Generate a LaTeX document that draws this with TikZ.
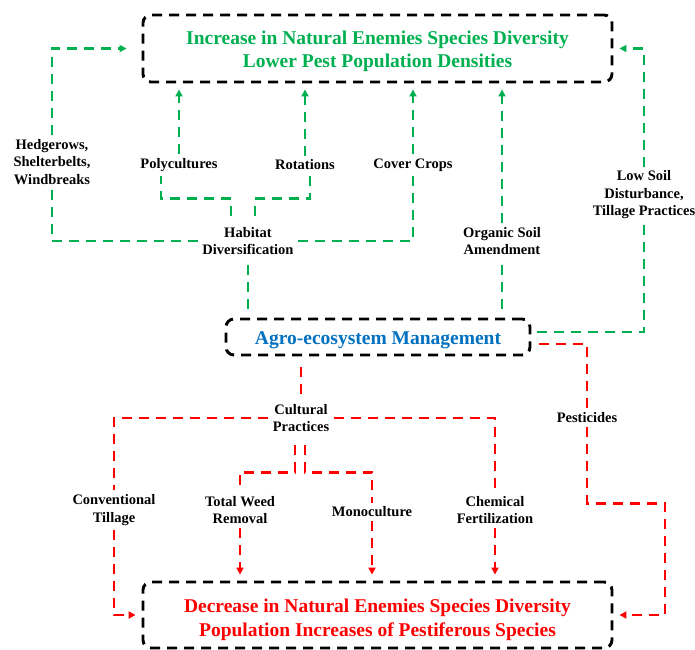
\documentclass[tikz,border=0pt]{standalone}
\usepackage{fontspec}
\setmainfont{Liberation Serif}
\usetikzlibrary{arrows.meta}
\definecolor{natgreen}{RGB}{0,176,80}
\definecolor{pestred}{RGB}{255,0,0}
\definecolor{agroblue}{RGB}{0,112,192}

\begin{document}
\begin{tikzpicture}[x=1pt,y=-1pt,-,>={Triangle[length=7pt,width=7pt]},line width=2.7pt,
    box node/.style={draw=black,line width=2.9pt,dash pattern=on 10pt off 7pt,rounded corners=8pt,align=center,font=\fontsize{19.5}{23.5}\selectfont\bfseries},
    label node/.style={align=center,inner sep=3pt,font=\fontsize{14.5}{17.5}\selectfont\bfseries},
    arrowed/.style={->,shorten >=6pt},
    good/.style={color=natgreen,dash pattern=on 10pt off 7pt},
    bad/.style={color=pestred,dash pattern=on 10pt off 7pt}]
                \useasboundingbox (0,0) rectangle (695,649);

                \node[box node,text=natgreen,minimum width=469pt,minimum height=67pt] (top) at (377.5,48.5) {\rule{0pt}{19pt}Increase in Natural Enemies Species Diversity\\Lower Pest Population Densities};
                \node[box node,text=agroblue,minimum width=304pt,minimum height=36pt] (agro) at (378,337) {\rule{0pt}{19pt}Agro-ecosystem Management};
                \node[box node,text=pestred,minimum width=469pt,minimum height=66pt] (bot) at (377.5,615) {\rule{0pt}{23pt}Decrease in Natural Enemies Species Diversity\\Population Increases of Pestiferous Species};

                \node[label node] (hedge) at (52,162) {Hedgerows,\\Shelterbelts,\\Windbreaks};
                \node[label node] (poly) at (179,165) {Polycultures};
                \node[label node] (rot) at (305,165) {Rotations};
                \node[label node] (cover) at (413,165) {Cover Crops};
                \node[label node] (habitat) at (248,241) {Habitat\\Diversification};
                \node[label node] (organic) at (502,241) {Organic Soil\\Amendment};
                \node[label node] (lowsoil) at (644,195) {Low Soil\\Disturbance,\\Tillage Practices};

                \node[label node] (cult) at (301,418) {Cultural\\Practices};
                \node[label node] (pest) at (587,418) {Pesticides};
                \node[label node] (conv) at (114,510) {Conventional\\Tillage};
                \node[label node] (weed) at (240,510) {Total Weed\\Removal};
                \node[label node] (mono) at (372,512) {Monoculture};
                \node[label node] (chem) at (495,510) {Chemical\\Fertilization};

                % green: toward natural enemies
                \path[good]
                    (poly) edge[arrowed] (poly |- top.south)
                    (rot) edge[arrowed] (rot |- top.south)
                    (cover) edge[arrowed] (cover |- top.south)
                    (organic) edge[arrowed] (organic |- top.south)
                    (habitat |- agro.north) edge[shorten <=9pt] (habitat)
                    (organic |- agro.north) edge[shorten <=9pt] (organic)
                    ;
                \draw[good] (habitat.west) -| (hedge.south);
                \draw[good,arrowed,shorten >=15pt] (hedge.north) |- (top.west);
                \draw[good] (habitat.east) -| (cover.south);
                \draw[good,shorten <=7pt] ([xshift=-17pt]habitat.north) -- ++(0,-24) -| ([xshift=-18pt]poly.south);
                \draw[good,shorten <=7pt] ([xshift=7pt]habitat.north) -- ++(0,-24) -| ([xshift=5pt]rot.south);
                \draw[good,shorten <=6pt] ([yshift=5pt]agro.east) -| (lowsoil.south);
                \draw[good,arrowed] (lowsoil.north) |- (top.east);

                % red: toward pest increase
                \path[bad]
                    (agro.south -| cult) edge[shorten <=11pt] (cult)
                    (weed) edge[arrowed] (weed |- bot.north)
                    (mono) edge[arrowed] (mono |- bot.north)
                    (chem) edge[arrowed] (chem |- bot.north)
                    ;
                \draw[bad] (cult.west) -| (conv.north);
                \draw[bad] (cult.east) -| (chem.north);
                \draw[bad,arrowed] (conv.south) |- (bot.west);
                \draw[bad,shorten <=9pt] ([xshift=-6pt]cult.south) -- ++(0,36) -| (weed.north);
                \draw[bad,shorten <=9pt] ([xshift=4pt]cult.south) -- ++(0,36) -| (mono.north);
                \draw[bad,shorten <=8pt] ([yshift=-7pt]agro.east) -| (pest.north);
                \draw[bad,arrowed] (pest.south) -- ++(0,76) -- ++(78,0) |- (bot.east);
            \end{tikzpicture}
\end{document}
